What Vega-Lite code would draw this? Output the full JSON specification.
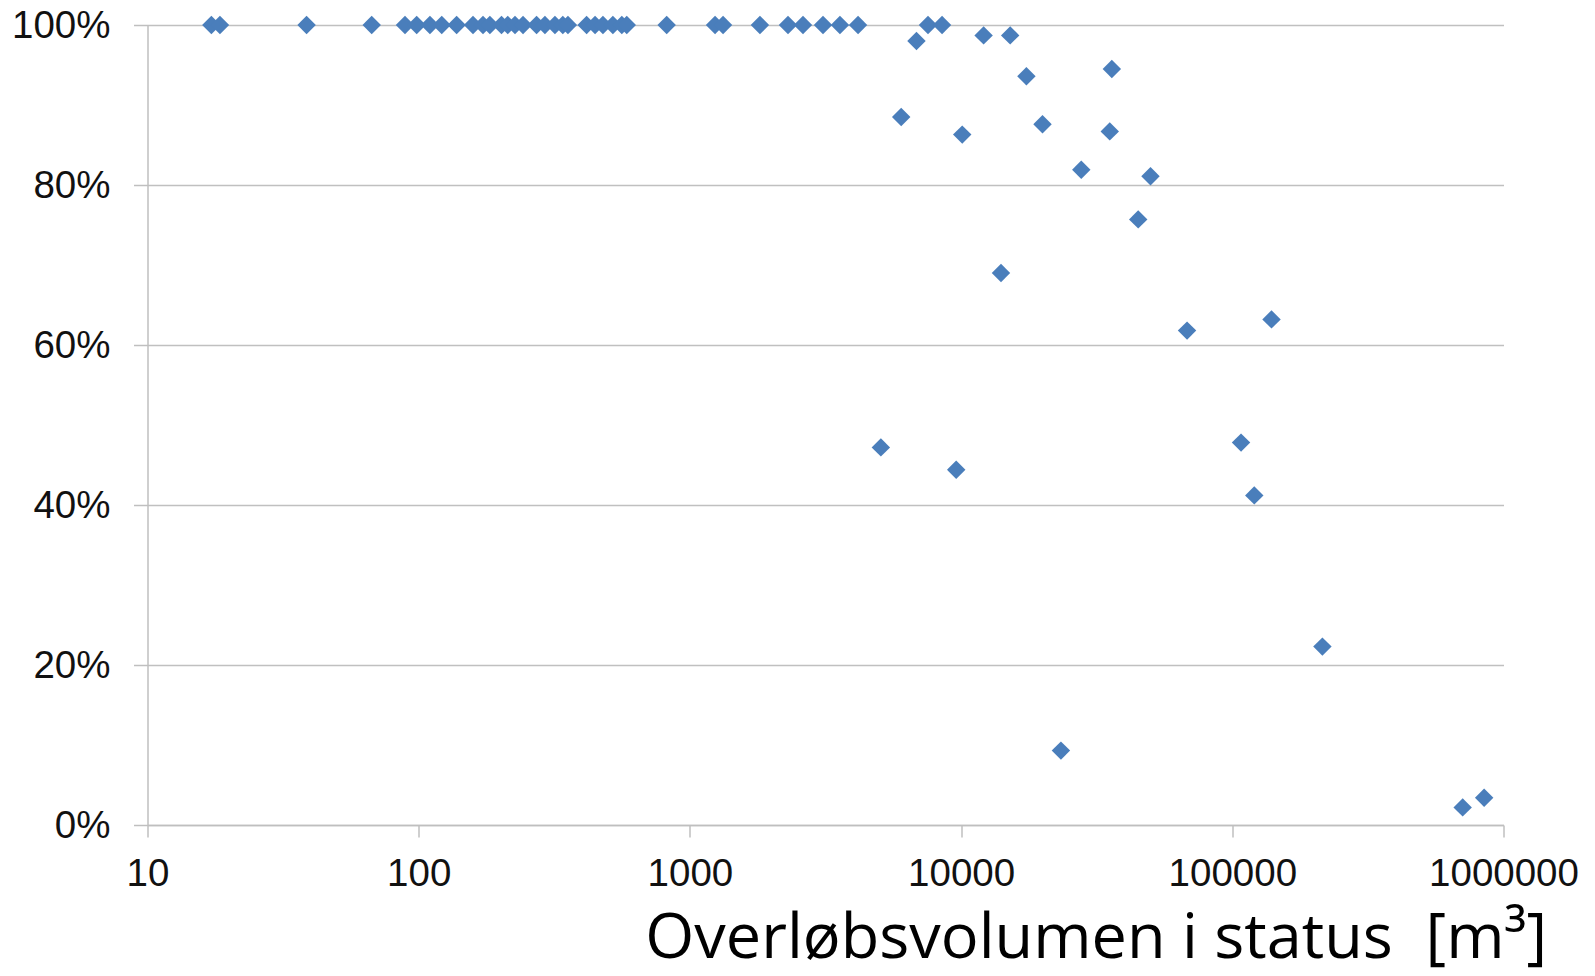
{
  "$schema": "https://vega.github.io/schema/vega-lite/v6.json",
  "width": 1356,
  "height": 800,
  "autosize": {"type": "none"},
  "padding": {"left": 147.5, "top": 25, "right": 91.5, "bottom": 151},
  "background": "white",
  "config": {"view": {"stroke": null}},
  "data": {
    "values": [
      {"volumen": 17.2, "andel": 1.0},
      {"volumen": 18.5, "andel": 1.0},
      {"volumen": 38.6, "andel": 1.0},
      {"volumen": 67.1, "andel": 1.0},
      {"volumen": 89.0, "andel": 1.0},
      {"volumen": 98.3, "andel": 1.0},
      {"volumen": 110, "andel": 1.0},
      {"volumen": 121.6, "andel": 1.0},
      {"volumen": 138, "andel": 1.0},
      {"volumen": 158.6, "andel": 1.0},
      {"volumen": 172.6, "andel": 1.0},
      {"volumen": 183, "andel": 1.0},
      {"volumen": 202, "andel": 1.0},
      {"volumen": 213, "andel": 1.0},
      {"volumen": 226.5, "andel": 1.0},
      {"volumen": 242.5, "andel": 1.0},
      {"volumen": 272, "andel": 1.0},
      {"volumen": 292, "andel": 1.0},
      {"volumen": 318, "andel": 1.0},
      {"volumen": 340, "andel": 1.0},
      {"volumen": 355, "andel": 1.0},
      {"volumen": 416, "andel": 1.0},
      {"volumen": 447, "andel": 1.0},
      {"volumen": 478, "andel": 1.0},
      {"volumen": 520, "andel": 1.0},
      {"volumen": 561, "andel": 1.0},
      {"volumen": 585, "andel": 1.0},
      {"volumen": 821, "andel": 1.0},
      {"volumen": 1238, "andel": 1.0},
      {"volumen": 1325, "andel": 1.0},
      {"volumen": 1812, "andel": 1.0},
      {"volumen": 2300, "andel": 1.0},
      {"volumen": 2612, "andel": 1.0},
      {"volumen": 3096, "andel": 1.0},
      {"volumen": 3575, "andel": 1.0},
      {"volumen": 4169, "andel": 1.0},
      {"volumen": 7550, "andel": 1.0},
      {"volumen": 8506, "andel": 1.0},
      {"volumen": 5060, "andel": 0.472},
      {"volumen": 6013, "andel": 0.885},
      {"volumen": 6846, "andel": 0.980},
      {"volumen": 9592, "andel": 0.444},
      {"volumen": 10096, "andel": 0.863},
      {"volumen": 12105, "andel": 0.987},
      {"volumen": 14030, "andel": 0.690},
      {"volumen": 15170, "andel": 0.987},
      {"volumen": 17410, "andel": 0.936},
      {"volumen": 19960, "andel": 0.876},
      {"volumen": 23340, "andel": 0.093},
      {"volumen": 27740, "andel": 0.819},
      {"volumen": 35330, "andel": 0.867},
      {"volumen": 35960, "andel": 0.945},
      {"volumen": 44980, "andel": 0.757},
      {"volumen": 49930, "andel": 0.811},
      {"volumen": 68100, "andel": 0.618},
      {"volumen": 107700, "andel": 0.478},
      {"volumen": 120500, "andel": 0.412},
      {"volumen": 139500, "andel": 0.632},
      {"volumen": 214900, "andel": 0.223},
      {"volumen": 707000, "andel": 0.022},
      {"volumen": 848500, "andel": 0.034}
    ]
  },
  "mark": {"type": "point", "shape": "diamond", "filled": true, "color": "#4a7ebb", "opacity": 1, "size": 340},
  "encoding": {
    "x": {
      "field": "volumen",
      "type": "quantitative",
      "scale": {"type": "log", "domain": [10, 1000000], "nice": false},
      "axis": {
        "title": "Overløbsvolumen i status \u00a0[m³]",
        "values": [10, 100, 1000, 10000, 100000, 1000000],
        "format": "d",
        "grid": false,
        "domainColor": "#bfbfbf",
        "domainWidth": 1.5,
        "tickColor": "#bfbfbf",
        "tickWidth": 1.5,
        "tickSize": 12,
        "labelFont": "Liberation Sans",
        "labelFontSize": 38.5,
        "labelColor": "#111111",
        "labelPadding": 18,
        "labelFlush": false,
        "labelOverlap": false,
        "titleFont": "Open Sans",
        "titleFontSize": 63,
        "titleFontWeight": "normal",
        "titleColor": "#000000",
        "titleAlign": "right",
        "titleAnchor": null,
        "titleBaseline": "alphabetic",
        "titleX": 1399,
        "titleY": 132
      }
    },
    "y": {
      "field": "andel",
      "type": "quantitative",
      "scale": {"domain": [0, 1], "nice": false},
      "axis": {
        "title": null,
        "values": [0, 0.2, 0.4, 0.6, 0.8, 1],
        "format": ".0%",
        "grid": true,
        "gridColor": "#c0c0c0",
        "gridWidth": 1.5,
        "domainColor": "#bfbfbf",
        "domainWidth": 1.5,
        "tickColor": "#bfbfbf",
        "tickWidth": 1.5,
        "tickSize": 14,
        "labelFont": "Liberation Sans",
        "labelFontSize": 38.5,
        "labelColor": "#111111",
        "labelPadding": 23.5
      }
    }
  }
}
